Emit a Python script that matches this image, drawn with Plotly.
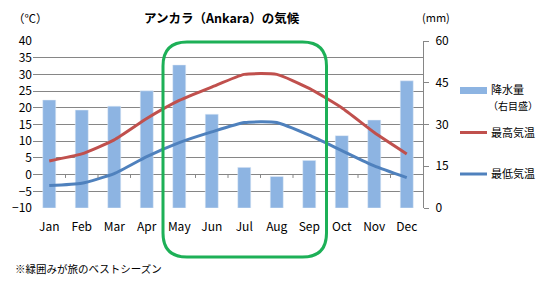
import plotly.graph_objects as go

# ---- data ----
months = ["Jan", "Feb", "Mar", "Apr", "May", "Jun", "Jul", "Aug", "Sep", "Oct", "Nov", "Dec"]
precip_mm = [38.8, 35.2, 36.6, 42.1, 51.4, 33.7, 14.6, 11.3, 17.1, 26.0, 31.6, 45.7]
temp_max = [4.1, 6.2, 10.4, 16.8, 22.2, 26.2, 30.0, 30.0, 25.8, 20.0, 12.6, 6.2]
temp_min = [-3.3, -2.6, 0.3, 5.4, 9.6, 12.8, 15.6, 15.6, 11.8, 7.2, 2.6, -0.9]
left_ticks = list(range(-10, 41, 5))
right_ticks = [0, 15, 30, 45, 60]

# ---- style / layout constants ----
W, H = 539, 291
L, R, T, B = 33, 116, 41, 83
PW, PH = W - L - R, H - T - B
FONT = "Noto Sans CJK JP"
BAR_C = "#8DB4E2"
RED_C = "#C0504D"
BLUE_C = "#4F81BD"
GREEN_C = "#1DB057"
GRID_C = "#868686"


def px(xp):
    return (xp - L) / PW


def py(yp):
    return (H - B - yp) / PH


fig = go.Figure()
fig.add_trace(go.Bar(x=months, y=precip_mm, marker_color=BAR_C, width=0.4,
                     yaxis="y", name="降水量", showlegend=False))
fig.add_trace(go.Scatter(x=months, y=temp_max, mode="lines", line=dict(color=RED_C, width=3, shape="spline", smoothing=0.5),
                         yaxis="y2", name="最高気温", showlegend=False))
fig.add_trace(go.Scatter(x=months, y=temp_min, mode="lines", line=dict(color=BLUE_C, width=3, shape="spline", smoothing=0.5),
                         yaxis="y2", name="最低気温", showlegend=False))

shapes = []
# x-axis tick marks at category boundaries on the 0 line
for i in range(len(months) - 1):
    shapes.append(dict(type="line", xref="x", yref="y2", x0=i + 0.5, x1=i + 0.5, y0=0, y1=-1.0,
                       line=dict(color=GRID_C, width=1)))

# green rounded "best season" box (between Apr/May and Sep/Oct)
bx0 = px(L + (3.5 + 0.5) * PW / 12)
bx1 = px(L + (8.5 + 0.5) * PW / 12 + 1)
by1 = py(42)
by0 = py(257)
rx = 24 / PW
ry = 24 / PH
path = (f"M{bx0 + rx},{by1} L{bx1 - rx},{by1} Q{bx1},{by1} {bx1},{by1 - ry} "
        f"L{bx1},{by0 + ry} Q{bx1},{by0} {bx1 - rx},{by0} "
        f"L{bx0 + rx},{by0} Q{bx0},{by0} {bx0},{by0 + ry} "
        f"L{bx0},{by1 - ry} Q{bx0},{by1} {bx0 + rx},{by1} Z")
shapes.append(dict(type="path", xref="paper", yref="paper", path=path,
                   line=dict(color=GREEN_C, width=3), layer="above"))

# manual legend swatches
shapes.append(dict(type="rect", xref="paper", yref="paper", x0=px(460), x1=px(487), y0=py(94), y1=py(87),
                   fillcolor=BAR_C, line=dict(width=0)))
shapes.append(dict(type="line", xref="paper", yref="paper", x0=px(460), x1=px(487), y0=py(132.5), y1=py(132.5),
                   line=dict(color=RED_C, width=3)))
shapes.append(dict(type="line", xref="paper", yref="paper", x0=px(460), x1=px(487), y0=py(174), y1=py(174),
                   line=dict(color=BLUE_C, width=3)))

ann = []
def text(x, y, s, size=11, anchor="left", bold=False):
    ann.append(dict(xref="paper", yref="paper", x=px(x), y=py(y), text=(f"<b>{s}</b>" if bold else s),
                    showarrow=False, xanchor=anchor, yanchor="middle",
                    font=dict(family=FONT, size=size, color="black")))

text(222, 18, "アンカラ（Ankara）の気候", size=12.5, anchor="center", bold=True)
text(30, 18, "（℃）", size=11.5, anchor="center")
text(436, 17, "(mm)", size=11, anchor="center")
text(489, 89, "降水量", size=11)
text(486, 105, "（右目盛）", size=10)
text(489, 132, "最高気温", size=11)
text(489, 173, "最低気温", size=11)
text(13, 268, "※緑囲みが旅のベストシーズン", size=10.5)

fig.update_layout(
    width=W, height=H, margin=dict(l=L, r=R, t=T, b=B),
    paper_bgcolor="white", plot_bgcolor="white",
    font=dict(family=FONT, size=12, color="black"),
    bargap=0.6, showlegend=False,
    shapes=shapes, annotations=ann,
    xaxis=dict(type="category", categoryorder="array", categoryarray=months, range=[-0.5, 11.5],
               showgrid=False, zeroline=False, showline=False, ticks="", ticklabelstandoff=10,
               tickfont=dict(family=FONT, size=12)),
    yaxis=dict(side="right", range=[0, 60], tickvals=right_ticks, showgrid=False, zeroline=False,
               showline=True, linecolor=GRID_C, linewidth=1, ticks="outside", ticklen=5, tickcolor=GRID_C,
               ticklabelstandoff=4, tickfont=dict(family=FONT, size=12)),
    yaxis2=dict(overlaying="y", side="left", range=[-10, 40], tickvals=left_ticks, showgrid=True,
                gridcolor=GRID_C, gridwidth=1, zeroline=False, showline=False, ticks="",
                tickfont=dict(family=FONT, size=12)),
)

fig.write_html("out.html")
